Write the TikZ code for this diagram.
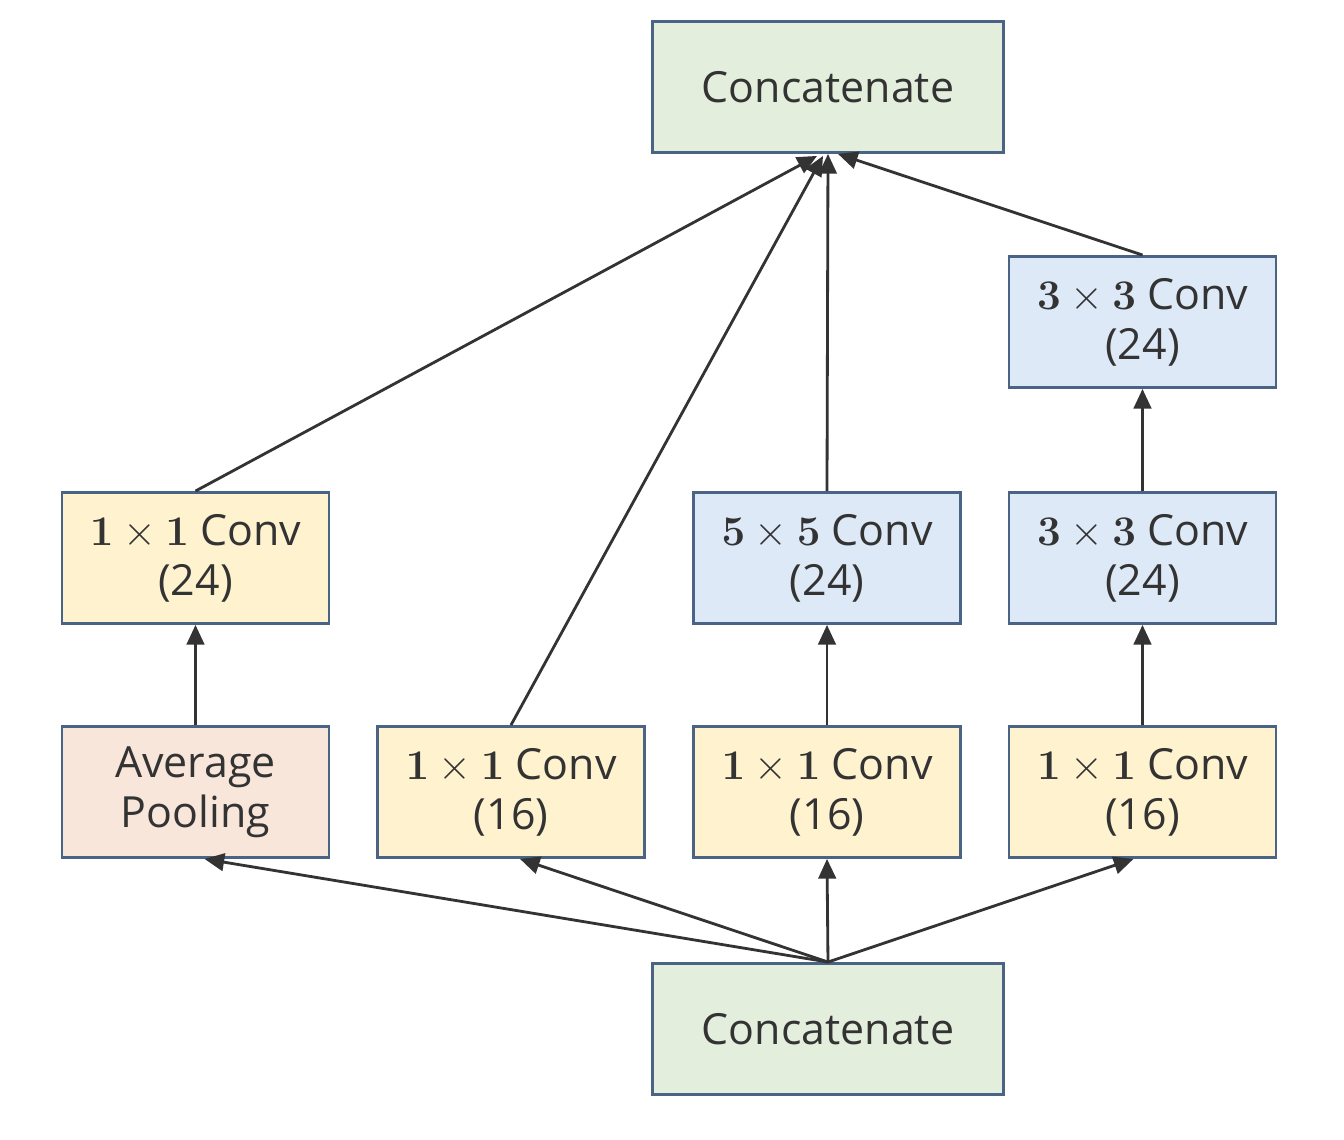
\documentclass[tikz,border=0pt]{standalone}
\usepackage[no-math]{fontspec}
\setmainfont{Open Sans}
\usetikzlibrary{arrows.meta,calc}

\definecolor{edgeblue}{HTML}{4A6485}
\definecolor{inkgray}{HTML}{333333}
\definecolor{fillyellow}{HTML}{FFF2CF}
\definecolor{fillblue}{HTML}{DEE9F7}
\definecolor{fillpeach}{HTML}{F9E6DB}
\definecolor{fillgreen}{HTML}{E4EEDC}

\newcommand{\kxk}[1]{$\mathbf{#1}\times\mathbf{#1}$}

\tikzset{
  blk/.style={draw=edgeblue, line width=0.8pt, text=inkgray, align=center,
    minimum width=2.67cm, minimum height=1.31cm, inner sep=0pt,
    font=\fontsize{12.2}{14.2}\selectfont},
  wideblk/.style={blk, minimum width=3.5cm, minimum height=1.31cm},
  flow/.style={draw=inkgray, line width=0.8pt,
    -{Triangle[length=5.6pt,width=5pt]}},
}

\begin{document}
\begin{tikzpicture}[x=0.01cm, y=-0.01cm]
  \path[fill=white, use as bounding box] (0,0) rectangle (1344,1140);

  % output and input stages
  \node[wideblk, fill=fillgreen] (top) at (828,87) {Concatenate};
  \node[wideblk, fill=fillgreen] (bot) at (828,1029) {Concatenate};

  % first row of branches
  \node[blk, fill=fillpeach]  (pool) at (195.5,792) {Average\\Pooling};
  \node[blk, fill=fillyellow] (ca)   at (511,792)   {\kxk{1} Conv\\(16)};
  \node[blk, fill=fillyellow] (cb)   at (827,792)   {\kxk{1} Conv\\(16)};
  \node[blk, fill=fillyellow] (cc)   at (1142.5,792){\kxk{1} Conv\\(16)};

  % second row
  \node[blk, fill=fillyellow] (pa) at (195.5,558) {\kxk{1} Conv\\(24)};
  \node[blk, fill=fillblue]   (fb) at (827,558)   {\kxk{5} Conv\\(24)};
  \node[blk, fill=fillblue]   (tc) at (1142.5,558){\kxk{3} Conv\\(24)};

  % third row
  \node[blk, fill=fillblue] (td) at (1142.5,322) {\kxk{3} Conv\\(24)};

  % arrow end points on the output stage
  \coordinate (t1) at ($(top.south)+(-11,2)$);
  \coordinate (t2) at ($(top.south)+(-5,2)$);
  \coordinate (t3) at ($(top.south)+(0,0)$);
  \coordinate (t4) at ($(top.south)+(10,0)$);

  % arrow end points on the first row
  \coordinate (b1) at ($(pool.south)+(9,0)$);
  \coordinate (b2) at ($(ca.south)+(9,0)$);
  \coordinate (b3) at (cb.south);
  \coordinate (b4) at ($(cc.south)+(-9,0)$);

  % fan-out from the input
  \draw[flow] (bot.north) -- (b1);
  \draw[flow] (bot.north) -- (b2);
  \draw[flow] (bot.north) -- (b3);
  \draw[flow] (bot.north) -- (b4);

  % vertical links inside branches
  \draw[flow] (pool.north) -- (pa.south);
  \draw[flow] (cb.north) -- (fb.south);
  \draw[flow] (cc.north) -- (tc.south);
  \draw[flow] (tc.north) -- (td.south);

  % fan-in to the output
  \draw[flow] (pa.north) -- (t1);
  \draw[flow] (ca.north) -- (t2);
  \draw[flow] (fb.north) -- (t3);
  \draw[flow] (td.north) -- (t4);
\end{tikzpicture}
\end{document}
